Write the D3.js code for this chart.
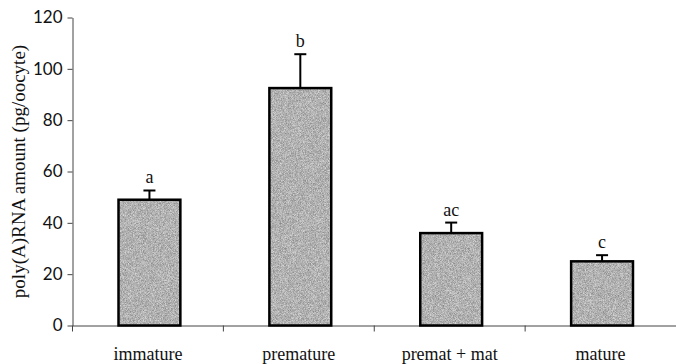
<!DOCTYPE html>
<html>
<head>
<meta charset="utf-8">
<script src="https://cdnjs.cloudflare.com/ajax/libs/d3/7.8.5/d3.min.js"></script>
<style>
  body { margin: 0; background: #fff; }
  svg { display: block; }
</style>
</head>
<body>
<svg id="chart" width="676" height="364"></svg>
<script>
// data
var categories = ["immature", "premature", "premat + mat", "mature"];
var means = [49, 92.5, 36, 25];
var errors = [3.6, 13.2, 4.1, 2.4];
var letters = ["a", "b", "ac", "c"];
var yTicks = [0, 20, 40, 60, 80, 100, 120];

var svg = d3.select("#chart");
var plotLeft = 72.5, plotRight = 676, plotTop = 17.5, plotBottom = 325.5;

var x = d3.scaleBand().domain(categories).range([plotLeft, plotRight]).padding(0);
var y = d3.scaleLinear().domain([0, 120]).range([plotBottom, plotTop]);
var barW = x.bandwidth() * 0.41;
var shift = 1.5;

// speckled grey fill like the printed original
var defs = svg.append("defs");
var f = defs.append("filter").attr("id", "speckle")
    .attr("x", 0).attr("y", 0).attr("width", 1).attr("height", 1)
    .attr("color-interpolation-filters", "sRGB");
f.append("feTurbulence").attr("type", "fractalNoise")
    .attr("baseFrequency", 1.4).attr("numOctaves", 1).attr("seed", 4).attr("result", "n");
f.append("feColorMatrix").attr("in", "n").attr("type", "matrix")
    .attr("values", "0.55 0 0 0 0.42  0.55 0 0 0 0.42  0.55 0 0 0 0.42  0 0 0 0 1")
    .attr("result", "g");
f.append("feComposite").attr("in", "g").attr("in2", "SourceGraphic").attr("operator", "in");

// y axis (runs a little below zero, as in the original)
var yAxis = svg.append("g")
    .attr("transform", "translate(" + plotLeft + ",0)")
    .call(d3.axisLeft(y).tickValues(yTicks).tickSize(5).tickSizeOuter(0).tickPadding(5));
yAxis.select(".domain").attr("stroke", "#444");
yAxis.selectAll(".tick line").attr("stroke", "#444");
yAxis.selectAll("text")
    .style("font-family", "Lato, 'Open Sans', sans-serif")
    .style("font-size", "17px")
    .attr("fill", "#111");

// x axis
var xAxis = svg.append("g")
    .attr("transform", "translate(0," + plotBottom + ")")
    .call(d3.axisBottom(x).tickSize(0).tickPadding(22));
xAxis.select(".domain").attr("stroke", "#444");
xAxis.selectAll("text")
    .style("font-family", "'Liberation Serif', 'Times New Roman', serif")
    .style("font-size", "18px")
    .attr("fill", "#111");
// category separator ticks
svg.append("g").selectAll("line")
    .data(categories)
    .join("line")
    .attr("x1", function(d) { return x(d); })
    .attr("x2", function(d) { return x(d); })
    .attr("y1", plotBottom)
    .attr("y2", plotBottom + 6)
    .attr("stroke", "#444");

// bars
var bars = svg.append("g");
bars.selectAll("rect.fill")
    .data(means)
    .join("rect")
    .attr("class", "fill")
    .attr("x", function(d, i) { return x(categories[i]) + x.bandwidth() / 2 - barW / 2 + shift; })
    .attr("y", function(d) { return y(d); })
    .attr("width", barW)
    .attr("height", function(d) { return plotBottom - y(d); })
    .attr("fill", "#aaa")
    .attr("filter", "url(#speckle)");
bars.selectAll("rect.edge")
    .data(means)
    .join("rect")
    .attr("class", "edge")
    .attr("x", function(d, i) { return x(categories[i]) + x.bandwidth() / 2 - barW / 2 + shift; })
    .attr("y", function(d) { return y(d); })
    .attr("width", barW)
    .attr("height", function(d) { return plotBottom - y(d); })
    .attr("fill", "none")
    .attr("stroke", "#000")
    .attr("stroke-width", 2.5);

// error bars (upper only)
var cx = function(i) { return x(categories[i]) + x.bandwidth() / 2 + shift; };
var err = svg.append("g").attr("stroke", "#000").attr("stroke-width", 2);
err.selectAll("line.v")
    .data(means)
    .join("line")
    .attr("class", "v")
    .attr("x1", function(d, i) { return cx(i); })
    .attr("x2", function(d, i) { return cx(i); })
    .attr("y1", function(d) { return y(d); })
    .attr("y2", function(d, i) { return y(d + errors[i]); });
err.selectAll("line.cap")
    .data(means)
    .join("line")
    .attr("class", "cap")
    .attr("x1", function(d, i) { return cx(i) - 6; })
    .attr("x2", function(d, i) { return cx(i) + 6; })
    .attr("y1", function(d, i) { return y(d + errors[i]); })
    .attr("y2", function(d, i) { return y(d + errors[i]); });

// significance letters
svg.append("g").selectAll("text")
    .data(letters)
    .join("text")
    .attr("x", function(d, i) { return cx(i); })
    .attr("y", function(d, i) { return y(means[i] + errors[i]) - 7; })
    .attr("text-anchor", "middle")
    .style("font-family", "'Liberation Serif', 'Times New Roman', serif")
    .style("font-size", "18px")
    .attr("fill", "#111")
    .text(function(d) { return d; });

// y axis title
svg.append("text")
    .attr("transform", "translate(25," + ((plotTop + plotBottom) / 2) + ") rotate(-90)")
    .attr("text-anchor", "middle")
    .style("font-family", "'Liberation Serif', 'Times New Roman', serif")
    .style("font-size", "19px")
    .attr("fill", "#111")
    .text("poly(A)RNA amount (pg/oocyte)");
</script>
</body>
</html>
